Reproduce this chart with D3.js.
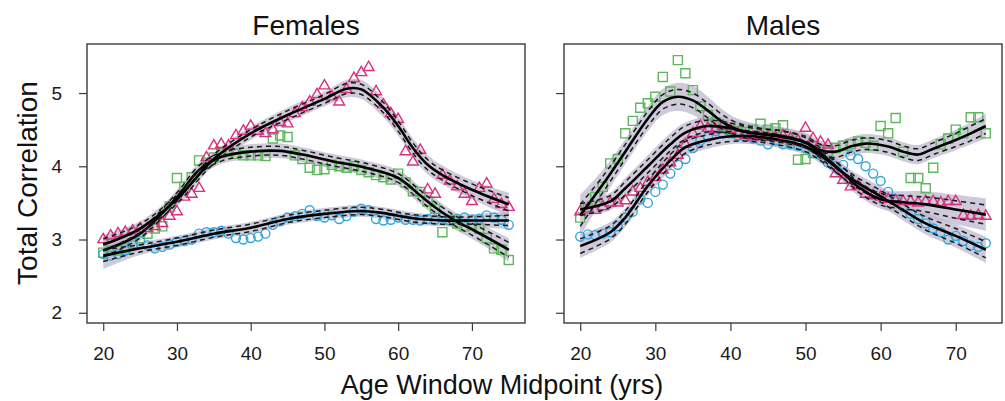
<!DOCTYPE html>
<html>
<head>
<meta charset="utf-8">
<script src="https://cdn.jsdelivr.net/npm/d3@7"></script>
<style>
  body { margin: 0; background: #fff; }
  svg { font-family: "Liberation Sans", Arial, sans-serif; }
</style>
</head>
<body>
<div id="chart"></div>
<script>
// x categories (age window midpoints)
const femaleAges = d3.range(20, 76);
const maleAges = d3.range(20, 75);
const xTicks = [20, 30, 40, 50, 60, 70];
const yTicks = [2, 3, 4, 5];

// Females – observed points
const fPinkPts = [3.00, 3.05, 3.08, 3.10, 3.12, 3.15, 3.15, 3.18, 3.22, 3.32, 3.38, 3.58, 3.62, 3.70, 4.12, 4.28, 4.30, 4.28, 4.42, 4.48,
  4.55, 4.48, 4.45, 4.50, 4.60, 4.58, 4.72, 4.80, 4.88, 4.98, 5.10, 4.95, 4.88, 5.05, 5.20, 5.28, 5.35, 5.02, 4.84, 4.72,
  4.64, 4.20, 4.06, 4.22, 3.68, 3.62, 3.88, 3.80, 3.72, 3.62, 3.52, 3.70, 3.76, 3.55, 3.48, 3.44];
const fGreenPts = [2.82, 2.85, 2.85, 2.88, 2.95, 3.02, 3.08, 3.15, 3.18, 3.45, 3.84, 3.72, 3.85, 4.08, 4.05, 4.12, 4.18, 4.20, 4.17, 4.15,
  4.15, 4.15, 4.14, 4.38, 4.42, 4.40, 4.15, 4.10, 3.98, 3.95, 3.96, 4.02, 4.00, 3.98, 4.00, 3.95, 3.92, 3.88, 3.85, 3.82,
  3.90, 3.78, 3.66, 3.65, 3.52, 3.42, 3.10, 3.27, 3.22, 3.18, 3.20, 3.15, 3.02, 2.88, 2.86, 2.72];
const fBluePts = [2.80, 2.78, 2.80, 2.85, 2.92, 2.98, 2.92, 2.88, 2.90, 2.93, 2.97, 2.98, 3.00, 3.08, 3.10, 3.10, 3.12, 3.08, 3.02, 3.00,
  3.02, 3.04, 3.08, 3.20, 3.25, 3.30, 3.32, 3.35, 3.40, 3.32, 3.30, 3.33, 3.28, 3.32, 3.38, 3.42, 3.40, 3.28, 3.26, 3.27,
  3.30, 3.27, 3.27, 3.26, 3.28, 3.27, 3.30, 3.26, 3.28, 3.30, 3.27, 3.28, 3.33, 3.30, 3.27, 3.20];

// Females – smooth fits: knot ages, fitted value, dashed CI half-width, shaded band half-width
const fPinkKnots = [20, 25, 30, 35, 40, 45, 50, 53, 55, 58, 60, 62, 64, 66, 70, 75];
const fPinkFit   = [2.93, 3.15, 3.55, 4.10, 4.45, 4.70, 4.92, 5.06, 5.05, 4.80, 4.55, 4.25, 4.02, 3.88, 3.68, 3.48];
const fPinkCi    = [0.08, 0.06, 0.06, 0.06, 0.05, 0.06, 0.06, 0.07, 0.07, 0.07, 0.07, 0.07, 0.07, 0.07, 0.08, 0.09];
const fPinkBand  = [0.13, 0.10, 0.10, 0.09, 0.09, 0.10, 0.10, 0.12, 0.13, 0.13, 0.13, 0.13, 0.13, 0.13, 0.13, 0.16];

const fGreenKnots = [20, 25, 30, 33, 36, 40, 44, 47, 51, 56, 60, 63, 65, 68, 70, 75];
const fGreenFit   = [2.85, 3.08, 3.58, 3.95, 4.13, 4.20, 4.21, 4.16, 4.07, 3.97, 3.84, 3.60, 3.44, 3.24, 3.14, 2.86];
const fGreenCi    = [0.09, 0.06, 0.06, 0.06, 0.06, 0.06, 0.06, 0.06, 0.06, 0.06, 0.06, 0.07, 0.07, 0.07, 0.08, 0.10];
const fGreenBand  = [0.16, 0.10, 0.10, 0.10, 0.10, 0.10, 0.10, 0.10, 0.10, 0.10, 0.11, 0.12, 0.12, 0.12, 0.13, 0.16];

const fBlueKnots = [20, 25, 30, 35, 40, 45, 50, 55, 58, 62, 66, 70, 75];
const fBlueFit   = [2.78, 2.88, 2.97, 3.08, 3.16, 3.28, 3.35, 3.39, 3.36, 3.29, 3.26, 3.26, 3.26];
const fBlueCi    = [0.08, 0.05, 0.05, 0.05, 0.05, 0.05, 0.05, 0.05, 0.05, 0.05, 0.05, 0.05, 0.07];
const fBlueBand  = [0.18, 0.09, 0.08, 0.08, 0.08, 0.08, 0.08, 0.08, 0.08, 0.08, 0.08, 0.09, 0.12];

// Males – observed points
const mPinkPts = [3.38, 3.42, 3.40, 3.45, 3.50, 3.50, 3.53, 3.65, 3.70, 3.78, 3.85, 3.95, 4.05, 4.15, 4.30, 4.45, 4.55, 4.52, 4.50, 4.55,
  4.50, 4.45, 4.42, 4.40, 4.42, 4.40, 4.40, 4.42, 4.38, 4.35, 4.52, 4.38, 4.33, 4.29, 3.90, 3.81, 3.72, 3.74, 3.62, 3.60,
  3.58, 3.55, 3.53, 3.52, 3.52, 3.50, 3.52, 3.52, 3.50, 3.52, 3.52, 3.33, 3.32, 3.33, 3.32];
const mGreenPts = [3.30, 3.42, 3.58, 3.72, 4.04, 4.10, 4.45, 4.62, 4.80, 4.86, 4.95, 5.22, 5.02, 5.45, 5.27, 5.04, 4.82, 4.70, 4.60, 4.55,
  4.50, 4.48, 4.47, 4.50, 4.58, 4.50, 4.52, 4.56, 4.35, 4.09, 4.10, 4.18, 4.22, 4.20, 4.25, 4.28, 4.30, 4.34, 4.32, 4.28,
  4.55, 4.45, 4.66, 4.20, 3.84, 3.84, 3.70, 3.98, 4.30, 4.38, 4.50, 4.45, 4.67, 4.67, 4.45];
const mBluePts = [3.04, 3.07, 3.06, 3.08, 3.10, 3.18, 3.30, 3.38, 3.55, 3.50, 3.65, 3.75, 3.90, 4.02, 4.10, 4.25, 4.35, 4.40, 4.48, 4.45,
  4.45, 4.42, 4.40, 4.38, 4.35, 4.30, 4.35, 4.30, 4.30, 4.28, 4.25, 4.18, 4.15, 4.05, 4.00, 4.02, 4.15, 4.10, 4.00, 3.90,
  3.80, 3.65, 3.55, 3.45, 3.35, 3.28, 3.22, 3.15, 3.10, 3.00, 3.05, 2.98, 2.92, 2.90, 2.95];

// Males – smooth fits
const mPinkKnots = [20, 24, 26, 29, 32, 34, 37, 40, 43, 47, 50, 52, 55, 57, 60, 63, 66, 70, 74];
const mPinkFit   = [3.41, 3.52, 3.70, 4.00, 4.30, 4.46, 4.55, 4.52, 4.45, 4.41, 4.32, 4.18, 3.91, 3.72, 3.55, 3.51, 3.48, 3.41, 3.34];
const mPinkCi    = [0.08, 0.08, 0.09, 0.09, 0.09, 0.09, 0.08, 0.07, 0.07, 0.07, 0.07, 0.07, 0.07, 0.07, 0.08, 0.09, 0.10, 0.12, 0.13];
const mPinkBand  = [0.10, 0.12, 0.14, 0.15, 0.15, 0.14, 0.13, 0.12, 0.12, 0.12, 0.12, 0.12, 0.12, 0.12, 0.13, 0.15, 0.18, 0.20, 0.22];

const mGreenKnots = [20, 23, 26, 29, 31, 33, 35, 37, 39, 41, 44, 47, 50, 52, 54, 56, 58, 61, 63, 65, 67, 70, 72, 74];
const mGreenFit   = [3.33, 3.75, 4.20, 4.65, 4.88, 4.95, 4.90, 4.76, 4.60, 4.50, 4.44, 4.40, 4.33, 4.22, 4.20, 4.27, 4.31, 4.27, 4.20, 4.16, 4.24, 4.36, 4.45, 4.55];
const mGreenCi    = [0.15, 0.11, 0.10, 0.10, 0.10, 0.10, 0.10, 0.10, 0.10, 0.09, 0.08, 0.08, 0.08, 0.08, 0.08, 0.08, 0.08, 0.08, 0.08, 0.08, 0.08, 0.09, 0.10, 0.10];
const mGreenBand  = [0.28, 0.20, 0.17, 0.17, 0.18, 0.19, 0.20, 0.19, 0.17, 0.15, 0.13, 0.13, 0.13, 0.13, 0.13, 0.13, 0.13, 0.13, 0.13, 0.13, 0.13, 0.14, 0.15, 0.17];

const mBlueKnots = [20, 24, 26, 29, 32, 34, 37, 40, 43, 47, 50, 52.5, 55, 57, 60, 63, 66, 70, 74];
const mBlueFit   = [2.91, 3.10, 3.30, 3.73, 4.08, 4.26, 4.36, 4.41, 4.41, 4.35, 4.27, 4.11, 3.91, 3.77, 3.59, 3.40, 3.22, 3.05, 2.86];
const mBlueCi    = [0.10, 0.09, 0.09, 0.08, 0.08, 0.08, 0.07, 0.07, 0.07, 0.07, 0.07, 0.07, 0.07, 0.07, 0.08, 0.08, 0.09, 0.10, 0.11];
const mBlueBand  = [0.16, 0.14, 0.13, 0.13, 0.13, 0.12, 0.12, 0.11, 0.11, 0.11, 0.11, 0.11, 0.11, 0.12, 0.13, 0.14, 0.15, 0.16, 0.18];

const PINK = "#d8307f", GREEN = "#5fb75f", BLUE = "#33a5de";

const panels = [
  { title: "Females", ages: femaleAges, left: 87, right: 525, xDomain: [17.8, 77.2], yLabels: true,
    series: [
      { shape: "square", color: GREEN, pts: fGreenPts, knots: fGreenKnots, fit: fGreenFit, ci: fGreenCi, band: fGreenBand },
      { shape: "circle", color: BLUE, pts: fBluePts, knots: fBlueKnots, fit: fBlueFit, ci: fBlueCi, band: fBlueBand },
      { shape: "triangle", color: PINK, pts: fPinkPts, knots: fPinkKnots, fit: fPinkFit, ci: fPinkCi, band: fPinkBand }
    ] },
  { title: "Males", ages: maleAges, left: 564, right: 1002, xDomain: [17.84, 76.16], yLabels: false,
    series: [
      { shape: "square", color: GREEN, pts: mGreenPts, knots: mGreenKnots, fit: mGreenFit, ci: mGreenCi, band: mGreenBand },
      { shape: "circle", color: BLUE, pts: mBluePts, knots: mBlueKnots, fit: mBlueFit, ci: mBlueCi, band: mBlueBand },
      { shape: "triangle", color: PINK, pts: mPinkPts, knots: mPinkKnots, fit: mPinkFit, ci: mPinkCi, band: mPinkBand }
    ] }
];

const width = 1005, height = 401;
const plotTop = 44, plotBottom = 323;

const svg = d3.select("#chart").append("svg")
  .attr("width", width)
  .attr("height", height);

const y = d3.scaleLinear().domain([1.86, 5.67]).range([plotBottom, plotTop]);

const triangle = d3.symbol().type(d3.symbolTriangle).size(50);
const square = d3.symbol().type(d3.symbolSquare).size(82);

panels.forEach((p, pi) => {
  const x = d3.scaleLinear().domain(p.xDomain).range([p.left, p.right]);
  const g = svg.append("g");

  const clipId = `clip-${pi}`;
  g.append("clipPath").attr("id", clipId)
    .append("rect")
    .attr("x", p.left).attr("y", plotTop)
    .attr("width", p.right - p.left).attr("height", plotBottom - plotTop);

  const plot = g.append("g").attr("clip-path", `url(#${clipId})`);

  const rowsOf = s => s.knots.map((a, i) => ({ a, f: s.fit[i], c: s.ci[i], b: s.band[i] }));

  // Shaded bands
  p.series.forEach(s => {
    plot.append("path")
      .datum(rowsOf(s))
      .attr("d", d3.area()
        .x(d => x(d.a))
        .y0(d => y(d.f - d.b))
        .y1(d => y(d.f + d.b))
        .curve(d3.curveCatmullRom))
      .attr("fill", "#bbb6cc")
      .attr("opacity", 0.72);
  });

  // Points
  p.series.forEach(s => {
    const pts = p.ages.map((a, i) => ({ a, v: s.pts[i] }));
    const sel = plot.append("g")
      .attr("fill", "none")
      .attr("stroke", s.color)
      .attr("stroke-width", 1.4);
    if (s.shape === "circle") {
      sel.selectAll("circle").data(pts).enter().append("circle")
        .attr("cx", d => x(d.a))
        .attr("cy", d => y(d.v))
        .attr("r", 4.5);
    } else {
      sel.selectAll("path").data(pts).enter().append("path")
        .attr("transform", d => `translate(${x(d.a)},${y(d.v)})`)
        .attr("d", s.shape === "square" ? square() : triangle());
    }
  });

  // Dashed CI lines and solid fit
  p.series.forEach(s => {
    const rows = rowsOf(s);
    [-1, 1].forEach(sign => {
      plot.append("path")
        .datum(rows)
        .attr("d", d3.line().x(d => x(d.a)).y(d => y(d.f + sign * d.c)).curve(d3.curveCatmullRom))
        .attr("fill", "none")
        .attr("stroke", "#1a1a1a")
        .attr("stroke-width", 1.5)
        .attr("stroke-dasharray", "5,4");
    });
    plot.append("path")
      .datum(rows)
      .attr("d", d3.line().x(d => x(d.a)).y(d => y(d.f)).curve(d3.curveCatmullRom))
      .attr("fill", "none")
      .attr("stroke", "#000")
      .attr("stroke-width", 2.6);
  });

  // Frame
  g.append("rect")
    .attr("x", p.left).attr("y", plotTop)
    .attr("width", p.right - p.left).attr("height", plotBottom - plotTop)
    .attr("fill", "none")
    .attr("stroke", "#3a3a3a")
    .attr("stroke-width", 1.4);

  // Axes
  const xAxis = g.append("g")
    .attr("transform", `translate(0,${plotBottom})`)
    .call(d3.axisBottom(x).tickValues(xTicks).tickSize(8).tickPadding(16).tickFormat(d3.format("d")));
  const yAxis = g.append("g")
    .attr("transform", `translate(${p.left},0)`)
    .call(d3.axisLeft(y).tickValues(yTicks).tickSize(8).tickPadding(17)
      .tickFormat(p.yLabels ? d3.format("d") : ""));

  [xAxis, yAxis].forEach(ax => {
    ax.select(".domain").remove();
    ax.selectAll(".tick line").attr("stroke", "#3a3a3a").attr("stroke-width", 1.2);
    ax.selectAll(".tick text")
      .attr("fill", "#1a1a1a")
      .attr("font-size", 19)
      .attr("font-family", "Liberation Sans, Arial, sans-serif");
  });

  // Panel title
  svg.append("text")
    .attr("x", (p.left + p.right) / 2)
    .attr("y", 35)
    .attr("text-anchor", "middle")
    .attr("font-size", 28)
    .attr("fill", "#111")
    .text(p.title);
});

// Axis titles
svg.append("text")
  .attr("transform", "translate(37,183) rotate(-90)")
  .attr("text-anchor", "middle")
  .attr("font-size", 28)
  .attr("fill", "#111")
  .text("Total Correlation");

svg.append("text")
  .attr("x", 502)
  .attr("y", 394)
  .attr("text-anchor", "middle")
  .attr("font-size", 27)
  .attr("fill", "#111")
  .text("Age Window Midpoint (yrs)");
</script>
</body>
</html>
